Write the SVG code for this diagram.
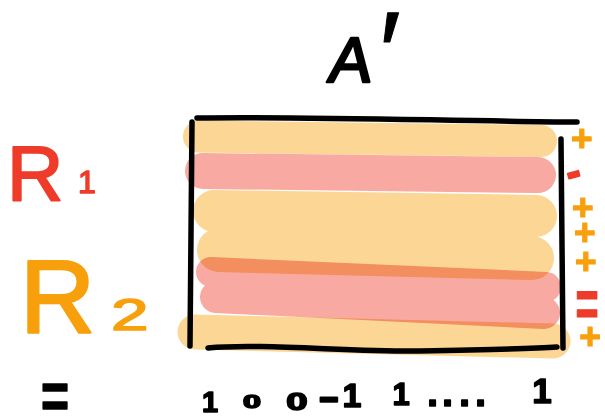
<svg xmlns="http://www.w3.org/2000/svg" width="605" height="418" viewBox="0 0 605 418">
<style>
  .band { fill: none; stroke-linecap: round; stroke-linejoin: round; }
  .orange { stroke: #FBD694; }
  .pink { stroke: #F7A9A2; }
  .ink { fill: none; stroke: #000; stroke-width: 5.5; stroke-linecap: round; stroke-linejoin: round; }
  .t { font-family: "Liberation Sans", Arial, sans-serif; stroke-linejoin: round; }
  .blk { fill: #000; stroke: #000; stroke-width: 1.5; font-weight: bold; }
  .red { fill: #EE3B2A; stroke: #EE3B2A; }
  .org { fill: #F8A00C; stroke: #F8A00C; }
  .sign { font-weight: bold; text-anchor: middle; stroke-width: 1.2; }
</style>
<rect width="605" height="418" fill="#fff"/>

<g id="matrix">
  <g id="orange-rows">
    <path class="band orange" stroke-width="32" d="M199,136.5 L541,141"/>
    <path class="band orange" stroke-width="42" d="M214,211 L536,216"/>
    <path class="band orange" stroke-width="44" d="M219,250 L532,258"/>
    <path class="band orange" stroke-width="35" d="M195,332 L553,341"/>
  </g>
  <g id="pink-rows" style="mix-blend-mode:multiply">
    <path class="band pink" stroke-width="36" d="M203,171 L538,175"/>
    <path class="band pink" stroke-width="30" d="M211,272 L546,287"/>
    <path class="band pink" stroke-width="32" d="M216,297 L544,313"/>
  </g>
  <g id="frame">
    <path class="ink" d="M197,118 C300,116 450,121 577,122"/>
    <path class="ink" stroke-width="6" d="M192,122 L190,346"/>
    <path class="ink" stroke-width="6" d="M561,139 L563,348"/>
    <path class="ink" d="M208,348 C260,343 350,352 420,351 C480,350 530,349 557,347"/>
  </g>
</g>

<g id="title">
  <text class="t" transform="translate(348,82) skewX(-8)" font-size="64" text-anchor="middle" fill="#000" stroke="#000" stroke-width="2.5">A</text>
  <text class="t" x="390" y="92" font-size="115" text-anchor="middle" fill="#000" stroke="#000" stroke-width="1">′</text>
</g>

<g id="label-R1">
  <text class="t red" x="7" y="200" font-size="78" stroke-width="2">R</text>
  <text class="t red" x="87" y="193" font-size="32" text-anchor="middle" stroke-width="1.5">1</text>
</g>

<g id="label-R2">
  <text class="t org" x="20" y="333" font-size="104" stroke-width="2.5">R</text>
  <text class="t org" transform="translate(111,330) scale(1.5,1)" font-size="45" stroke-width="1.5">2</text>
</g>

<g id="row-signs">
  <text class="t sign" font-size="37">
    <tspan class="org" x="587" y="151">+</tspan>
    <tspan class="red" x="582" y="187" rotate="-15" font-size="42" stroke-width="2">-</tspan>
    <tspan class="org" x="588" y="220">+</tspan>
    <tspan class="org" x="590" y="245">+</tspan>
    <tspan class="org" x="591" y="274">+</tspan>
    <tspan class="org" x="590" y="349">+</tspan>
  </text>
  <text class="t red sign" transform="translate(587,327) scale(0.6,1)" font-size="66">=</text>
</g>

<g id="bottom-row">
  <text class="t blk" transform="translate(55,418) scale(0.75,1)" font-size="64" text-anchor="middle" stroke-width="0">=</text>
  <text class="t blk" x="210" y="412" font-size="29" text-anchor="middle">1</text>
  <text class="t blk" transform="translate(252,408) scale(1.7,1)" font-size="19" text-anchor="middle">0</text>
  <text class="t blk" transform="translate(297,410) scale(1.6,1)" font-size="24" text-anchor="middle">0</text>
  <text class="t blk" transform="translate(329,410) scale(1.6,1)" font-size="40" text-anchor="middle" stroke-width="0.5">-</text>
  <text class="t blk" x="352" y="407" font-size="34" text-anchor="middle">1</text>
  <text class="t blk" x="401" y="405" font-size="31" text-anchor="middle">1</text>
  <text class="t blk" x="427 442 459 475" y="406" font-size="40">....</text>
  <text class="t blk" x="542" y="403" font-size="35" text-anchor="middle">1</text>
</g>
</svg>
